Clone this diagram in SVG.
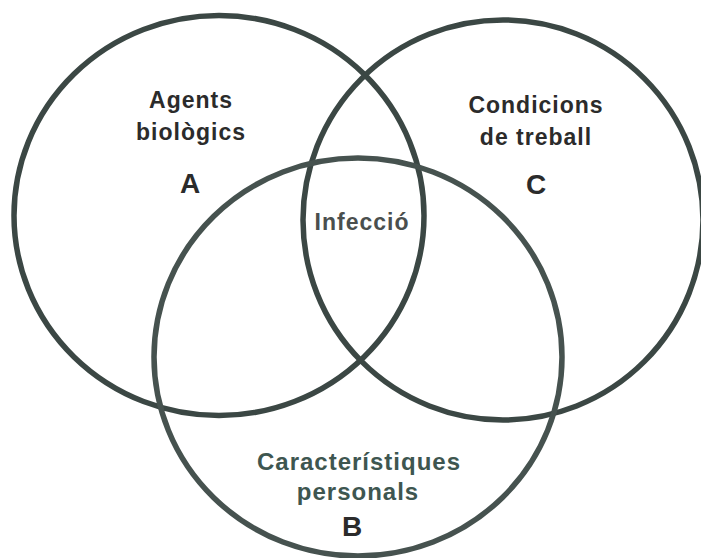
<svg xmlns="http://www.w3.org/2000/svg" width="701" height="558" viewBox="0 0 701 558">
<style>
.ring{fill:none;stroke:#3b4744;stroke-width:5.5}
.lbl{font-family:"Liberation Sans",Arial,sans-serif;font-weight:bold;font-size:23px;letter-spacing:1px;text-anchor:middle;fill:#2b2b2b}
.big{font-family:"Liberation Sans",Arial,sans-serif;font-weight:bold;font-size:28px;text-anchor:middle;fill:#2b2b2b}
.green{fill:#3e5650}
</style>
<rect width="701" height="558" fill="#ffffff"/>
<g id="connectors"></g>
<g id="circleA">
<ellipse class="ring" cx="219" cy="215.5" rx="205" ry="200"/>
<text class="lbl" x="191" y="108">Agents</text>
<text class="lbl" x="191" y="140">biològics</text>
<text class="big" x="190" y="193">A</text>
</g>
<g id="circleC">
<circle class="ring" cx="503" cy="220" r="200"/>
<text class="lbl" x="536" y="113">Condicions</text>
<text class="lbl" x="536" y="145">de treball</text>
<text class="big" x="536" y="194">C</text>
</g>
<g id="circleB">
<ellipse class="ring" cx="358" cy="357" rx="204" ry="199" style="stroke:#46524f"/>
<text class="lbl green" x="359" y="470" style="font-size:24px">Característiques</text>
<text class="lbl green" x="358" y="500" style="font-size:24px">personals</text>
<text class="big" x="352" y="536">B</text>
</g>
<g id="intersection">
<text class="lbl" x="362" y="230" style="fill:#4a4f4e">Infecció</text>
</g>
</svg>
